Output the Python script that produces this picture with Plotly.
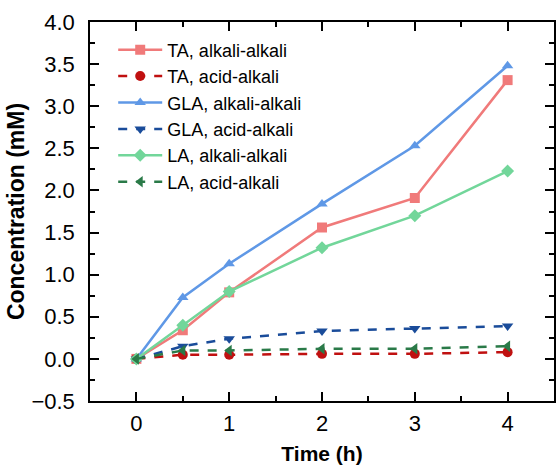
import plotly.graph_objects as go

time_h = [0, 0.5, 1, 2, 3, 4]
ta_alk = [0.0, 0.34, 0.79, 1.56, 1.91, 3.31]
ta_acid = [0.0, 0.05, 0.05, 0.06, 0.06, 0.08]
gla_alk = [0.0, 0.73, 1.13, 1.84, 2.53, 3.48]
gla_acid = [0.0, 0.15, 0.24, 0.33, 0.36, 0.39]
la_alk = [0.0, 0.40, 0.80, 1.32, 1.70, 2.23]
la_acid = [0.0, 0.10, 0.10, 0.12, 0.12, 0.15]

series = [
    ("TA, alkali-alkali", ta_alk, "#F07A7A", "solid", "square"),
    ("TA, acid-alkali", ta_acid, "#C01010", "dash", "circle"),
    ("GLA, alkali-alkali", gla_alk, "#5F98E6", "solid", "triangle-up"),
    ("GLA, acid-alkali", gla_acid, "#1A4C9A", "dash", "triangle-down"),
    ("LA, alkali-alkali", la_alk, "#72D69A", "solid", "diamond"),
    ("LA, acid-alkali", la_acid, "#2A7A48", "dash", "triangle-left"),
]

FONT = "Liberation Sans, Arial"

fig = go.Figure()
for name, ys, col, dash, sym in series:
    fig.add_trace(go.Scatter(
        x=time_h, y=ys, name=name, mode="lines+markers",
        line=dict(color=col, width=2.5, dash=dash),
        marker=dict(symbol=sym, size=10, color=col),
    ))

axis_common = dict(
    showline=True, linecolor="black", linewidth=1.5, mirror="allticks",
    ticks="inside", ticklen=9, tickwidth=1.5, tickcolor="black",
    showgrid=False, zeroline=False,
    tickfont=dict(family=FONT, size=22, color="black"),
)

fig.update_xaxes(
    range=[-0.5, 4.5], tickmode="array", tickvals=[0, 1, 2, 3, 4],
    ticklabelstandoff=2,
    title=dict(text="<b>Time (h)</b>", font=dict(family=FONT, size=21, color="black"), standoff=11),
    minor=dict(ticks="inside", ticklen=5, tickwidth=1.5, tickcolor="black", dtick=0.5, tick0=0),
    **axis_common,
)
fig.update_yaxes(
    range=[-0.5, 4.0], dtick=0.5, tickformat=".1f",
    ticklabelstandoff=9,
    title=dict(text="<b>Concentration (mM)</b>", font=dict(family=FONT, size=23, color="black"), standoff=0),
    minor=dict(ticks="inside", ticklen=5, tickwidth=1.5, tickcolor="black", dtick=0.25, tick0=0),
    **axis_common,
)

fig.update_layout(
    width=557, height=473,
    margin=dict(l=90, r=1, t=22, b=72),
    plot_bgcolor="white", paper_bgcolor="white",
    legend=dict(x=0.05, y=0.975, xanchor="left", yanchor="top",
                bgcolor="rgba(0,0,0,0)", tracegroupgap=0, itemwidth=44,
                font=dict(family=FONT, size=18, color="black")),
    showlegend=True,
)

fig.write_html("out.html")
